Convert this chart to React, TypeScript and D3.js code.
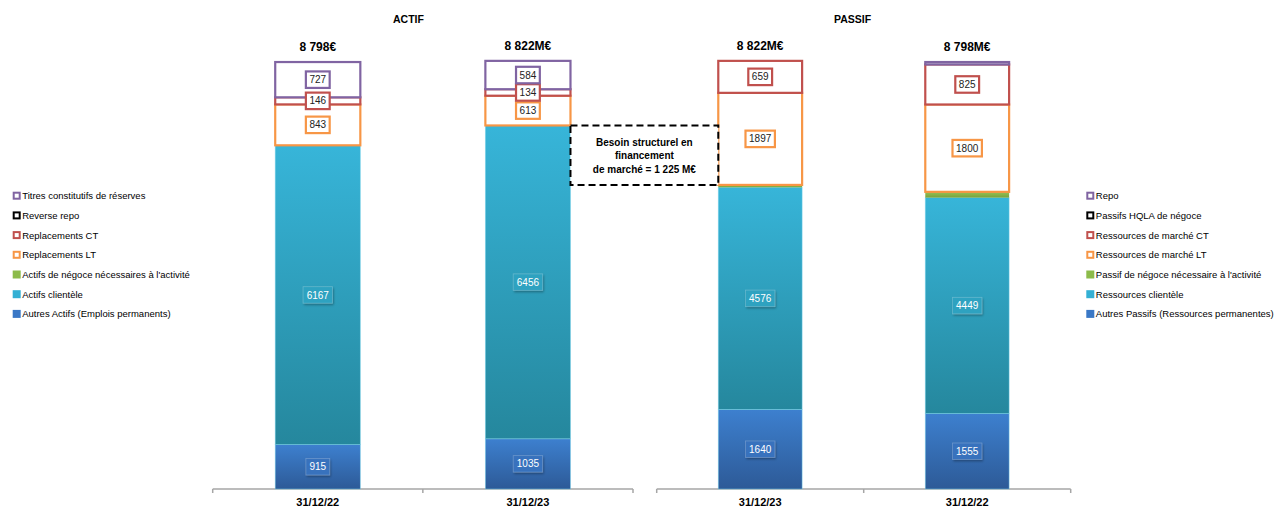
import React from "react";
import * as d3 from "d3";

// ---------- DATA ----------
const actifCategories = ["31/12/22", "31/12/23"];
const passifCategories = ["31/12/23", "31/12/22"];

const actifSeriesNames = [
  "Autres Actifs (Emplois permanents)",
  "Actifs clientèle",
  "Actifs de négoce nécessaires à l'activité",
  "Replacements LT",
  "Replacements CT",
  "Reverse repo",
  "Titres constitutifs de réserves",
];
const passifSeriesNames = [
  "Autres Passifs (Ressources permanentes)",
  "Ressources clientèle",
  "Passif de négoce nécessaire à l'activité",
  "Ressources de marché LT",
  "Ressources de marché CT",
  "Passifs HQLA de négoce",
  "Repo",
];

// actif values per series (per category)
const autresActifs = [915, 1035];
const actifsClientele = [6167, 6456];
const actifsNegoce = [0, 0];
const replacementsLT = [843, 613];
const replacementsCT = [146, 134];
const reverseRepo = [0, 0];
const titresReserves = [727, 584];

// passif values per series (per category)
const autresPassifs = [1640, 1555];
const ressourcesClientele = [4576, 4449];
const passifNegoce = [50, 119];
const ressourcesLT = [1897, 1800];
const ressourcesCT = [659, 825];
const passifsHQLA = [0, 0];
const repo = [0, 50];

const actifTotals = ["8 798€", "8 822M€"];
const passifTotals = ["8 822M€", "8 798M€"];

const besoinLines = ["Besoin structurel en", "financement", "de marché = 1 225 M€"];

// ---------- STYLE ----------
const seriesColors = ["#3a78c6", "#34b0d4", "#8cbb4a", "#f79646", "#c0504d", "#000000", "#8064a2"];
const seriesOutlined = [false, false, false, true, true, true, true];
const gradTop = ["#3d80cf", "#37b5d9", "#95c257"];
const gradBottom = ["#2d5a97", "#25879d", "#77a23c"];
const FONT = "'Liberation Sans', Arial, sans-serif";

const W = 1279;
const H = 508;
const BASE = 489;
const y = d3.scaleLinear().domain([0, 9000]).range([BASE, BASE - 9000 * 0.04853]);

function buildTable(cats: string[], series: number[][]) {
  return cats.map((c, i) => {
    const row: any = { cat: c };
    series.forEach((s, k) => (row["s" + k] = s[i]));
    return row;
  });
}

function Panel({
  id,
  categories,
  series,
  totals,
  title,
  x0,
  x1,
  titleX,
}: {
  id: string;
  categories: string[];
  series: number[][];
  totals: string[];
  title: string;
  x0: number;
  x1: number;
  titleX: number;
}) {
  const x = d3.scaleBand<string>().domain(categories).range([x0, x1]).paddingInner(0.595).paddingOuter(0.2975);
  const table = buildTable(categories, series);
  const keys = series.map((_, k) => "s" + k);
  const stacked = d3.stack<any>().keys(keys)(table);
  const bw = x.bandwidth();

  return (
    <g>
      <text x={titleX} y={23} textAnchor="middle" fontFamily={FONT} fontWeight="bold" fontSize={10.5} fill="#000">
        {title}
      </text>
      {/* axis */}
      <line x1={x0} x2={x1} y1={BASE} y2={BASE} stroke="#a6a6a6" strokeWidth={1.5} />
      {[x0, (x0 + x1) / 2, x1].map((t, i) => (
        <line key={i} x1={t} x2={t} y1={BASE} y2={BASE + 4} stroke="#a6a6a6" strokeWidth={1.5} />
      ))}
      {categories.map((c) => (
        <text
          key={c}
          x={(x(c) as number) + bw / 2}
          y={506}
          textAnchor="middle"
          fontFamily={FONT}
          fontWeight="bold"
          fontSize={11}
          fill="#000"
        >
          {c}
        </text>
      ))}
      {/* segments */}
      {stacked.map((layer, k) =>
        layer.map((d, i) => {
          const v = d[1] - d[0];
          if (v <= 0) return null;
          const cx = x(categories[i]) as number;
          const yt = y(d[1]);
          const yb = y(d[0]);
          if (seriesOutlined[k]) {
            return (
              <rect
                key={k + "-" + i}
                x={cx}
                y={yt}
                width={bw}
                height={yb - yt}
                fill="#fff"
                stroke={seriesColors[k]}
                strokeWidth={2.2}
              />
            );
          }
          return (
            <rect
              key={k + "-" + i}
              x={cx}
              y={yt}
              width={bw}
              height={yb - yt}
              fill={`url(#${id}-g${k})`}
              stroke={k === 2 ? "none" : "rgba(120,210,235,0.6)"}
              strokeWidth={0.8}
            />
          );
        })
      )}
      {/* labels */}
      {stacked.map((layer, k) =>
        layer.map((d, i) => {
          const v = d[1] - d[0];
          if (v < 100 || k === 2) return null;
          const cx = (x(categories[i]) as number) + bw / 2;
          const cy = (y(d[0]) + y(d[1])) / 2;
          const txt = String(v);
          const w = txt.length * 5.6 + 7;
          const h = 16.5;
          if (seriesOutlined[k]) {
            return (
              <g key={"l" + k + "-" + i}>
                <rect
                  x={cx - w / 2}
                  y={cy - h / 2}
                  width={w}
                  height={h}
                  fill="#fff"
                  stroke={seriesColors[k]}
                  strokeWidth={2.2}
                />
                <text x={cx} y={cy + 3.6} textAnchor="middle" fontFamily={FONT} fontSize={10} fill="#222">
                  {txt}
                </text>
              </g>
            );
          }
          return (
            <g key={"l" + k + "-" + i}>
              <rect
                x={cx - w / 2}
                y={cy - h / 2}
                width={w}
                height={h}
                fill={k === 0 ? "#3872bd" : "#2fa2c0"}
                stroke="rgba(255,255,255,0.25)"
                strokeWidth={0.8}
                filter="url(#shadow)"
              />
              <text x={cx} y={cy + 3.6} textAnchor="middle" fontFamily={FONT} fontSize={10} fill="#fff">
                {txt}
              </text>
            </g>
          );
        })
      )}
      {/* totals */}
      {categories.map((c, i) => {
        const total = series.reduce((a, s) => a + s[i], 0);
        return (
          <text
            key={"t" + c}
            x={(x(c) as number) + bw / 2}
            y={y(total) - 11}
            textAnchor="middle"
            fontFamily={FONT}
            fontWeight="bold"
            fontSize={12}
            fill="#000"
          >
            {totals[i]}
          </text>
        );
      })}
    </g>
  );
}

function Legend({ names, xMarker }: { names: string[]; xMarker: number }) {
  const order = names.map((_, k) => k).reverse();
  return (
    <g>
      {order.map((k, r) => {
        const cy = 195.7 + r * 19.7;
        return (
          <g key={k}>
            {seriesOutlined[k] ? (
              <rect x={xMarker + 1} y={cy - 3} width={6} height={6} fill="#fff" stroke={seriesColors[k]} strokeWidth={2} />
            ) : (
              <rect x={xMarker} y={cy - 4} width={8} height={8} fill={seriesColors[k]} />
            )}
            <text x={xMarker + 9.5} y={cy + 3.4} fontFamily={FONT} fontSize={9.5} fill="#000">
              {names[k]}
            </text>
          </g>
        );
      })}
    </g>
  );
}

export default function App() {
  const actifSeries = [autresActifs, actifsClientele, actifsNegoce, replacementsLT, replacementsCT, reverseRepo, titresReserves];
  const passifSeries = [autresPassifs, ressourcesClientele, passifNegoce, ressourcesLT, ressourcesCT, passifsHQLA, repo];

  const leftX = d3.scaleBand<string>().domain(actifCategories).range([212.7, 633]).paddingInner(0.595).paddingOuter(0.2975);
  const rightX = d3.scaleBand<string>().domain(passifCategories).range([656.7, 1070.7]).paddingInner(0.595).paddingOuter(0.2975);
  const boxX0 = (leftX(actifCategories[1]) as number) + leftX.bandwidth();
  const boxX1 = rightX(passifCategories[0]) as number;
  const boxTop = y(autresActifs[1] + actifsClientele[1] + actifsNegoce[1]);
  const boxBottom = y(autresPassifs[0] + ressourcesClientele[0] + passifNegoce[0]);
  const boxCx = (boxX0 + boxX1) / 2;

  const defs = (id: string) =>
    [0, 1, 2].map((k) => (
      <linearGradient key={id + k} id={`${id}-g${k}`} x1="0" y1="0" x2="0" y2="1">
        <stop offset="0" stopColor={gradTop[k]} />
        <stop offset="1" stopColor={gradBottom[k]} />
      </linearGradient>
    ));

  return (
    <svg width={W} height={H} style={{ position: "absolute", left: 0, top: 0, background: "#fff" }}>
      <defs>
        {defs("a")}
        {defs("p")}
        <filter id="shadow" x="-30%" y="-30%" width="160%" height="180%">
          <feDropShadow dx="1" dy="1.5" stdDeviation="1" floodColor="#000" floodOpacity="0.35" />
        </filter>
      </defs>
      <rect x={0} y={0} width={W} height={H} fill="#fff" />
      <Legend names={actifSeriesNames} xMarker={12.7} />
      <Legend names={passifSeriesNames} xMarker={1086.3} />
      <Panel
        id="a"
        categories={actifCategories}
        series={actifSeries}
        totals={actifTotals}
        title="ACTIF"
        x0={212.7}
        x1={633}
        titleX={408.5}
      />
      <Panel
        id="p"
        categories={passifCategories}
        series={passifSeries}
        totals={passifTotals}
        title="PASSIF"
        x0={656.7}
        x1={1070.7}
        titleX={852.5}
      />
      <rect
        x={boxX0}
        y={boxTop}
        width={boxX1 - boxX0}
        height={boxBottom - boxTop}
        fill="#fff"
        stroke="#000"
        strokeWidth={2}
        strokeDasharray="7 4"
      />
      {besoinLines.map((l, i) => (
        <text
          key={i}
          x={boxCx}
          y={146 + i * 13.3}
          textAnchor="middle"
          fontFamily={FONT}
          fontWeight="bold"
          fontSize={10}
          fill="#000"
        >
          {l}
        </text>
      ))}
    </svg>
  );
}
